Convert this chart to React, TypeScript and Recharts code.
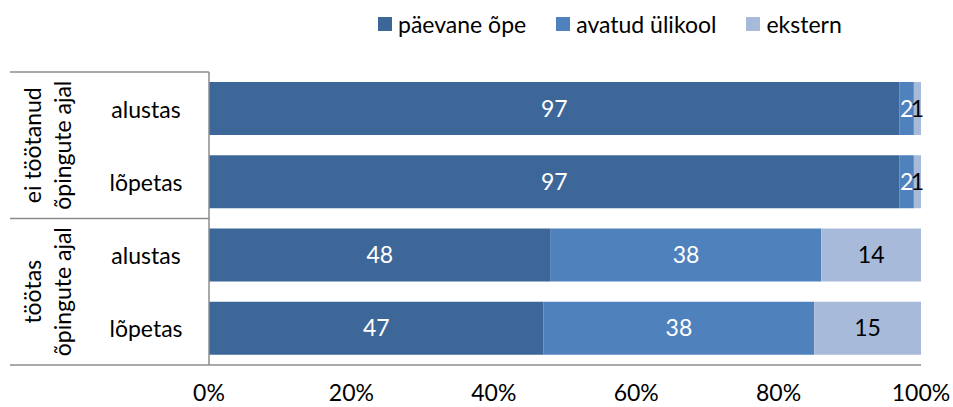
import React from 'react';
import { BarChart, Bar, XAxis, YAxis, LabelList } from 'recharts';

const rowLabels = ['alustas', 'lõpetas', 'alustas', 'lõpetas'];
const groupLabels = [
    ['ei töötanud', 'õpingute ajal'],
    ['töötas', 'õpingute ajal'],
];
const paevane = [97, 97, 48, 47];
const avatud = [2, 2, 38, 38];
const ekstern = [1, 1, 14, 15];
const xTicks = [0, 20, 40, 60, 80, 100];

const seriesNames = ['päevane õpe', 'avatud ülikool', 'ekstern'];
const colors = ['#3e6799', '#4f81bd', '#a8bad9'];

const data = rowLabels.map((row, i) => ({
    id: `r${i}`,
    row,
    paevane: paevane[i],
    avatud: avatud[i],
    ekstern: ekstern[i],
}));

const W = 953;
const H = 407;
const M_TOP = 72;
const X_AXIS_H = 42;
const Y_AXIS_W = 209;
const M_RIGHT = 32;
const PLOT_H = H - M_TOP - X_AXIS_H;
const band = PLOT_H / rowLabels.length;
const lineColor = '#8c8c8c';
const font = 'Lato, "Open Sans", sans-serif';
const FS = 23;

function CategoryTick(props: any) {
    const { y, index } = props;
    const row = data[index];
    const parts: React.ReactNode[] = [];
    parts.push(
        <text key="row" x={146} y={y} textAnchor="middle" dominantBaseline="central" fontSize={FS} fill="#000" fontFamily={font}>
            {row.row}
        </text>
    );
    if (index === 0) {
        parts.push(<line key="top" x1={10} x2={Y_AXIS_W} y1={y - band / 2} y2={y - band / 2} stroke={lineColor} strokeWidth={1.5} />);
    }
    if (index % 2 === 1) {
        parts.push(<line key="sep" x1={10} x2={Y_AXIS_W} y1={y + band / 2} y2={y + band / 2} stroke={lineColor} strokeWidth={1.5} />);
    }
    if (index % 2 === 0) {
        const g = groupLabels[index / 2];
        const cy = y + band / 2;
        [32, 62].forEach((gx, li) => {
            parts.push(
                <text
                    key={`g${li}`}
                    x={gx}
                    y={cy}
                    transform={`rotate(-90, ${gx}, ${cy})`}
                    textAnchor="middle"
                    dominantBaseline="central"
                    fontSize={FS}
                    fill="#000"
                    fontFamily={font}
                >
                    {g[li]}
                </text>
            );
        });
    }
    return <g>{parts}</g>;
}

function ChartLegend() {
    return (
        <div
            style={{
                position: 'absolute',
                left: 378,
                top: 9,
                height: 30,
                display: 'flex',
                alignItems: 'center',
                fontFamily: font,
                fontSize: FS,
                color: '#000',
                whiteSpace: 'nowrap',
            }}
        >
            {seriesNames.map((name, i) => (
                <div key={name} style={{ display: 'flex', alignItems: 'center', marginRight: 30 }}>
                    <span style={{ width: 14, height: 14, background: colors[i], display: 'inline-block', marginRight: 6 }} />
                    <span>{name}</span>
                </div>
            ))}
        </div>
    );
}

export default function App() {
    return (
        <div style={{ position: 'absolute', left: 0, top: 0, width: W, height: H, background: '#fff', fontFamily: font }}>
            <BarChart
                width={W}
                height={H}
                data={data}
                layout="vertical"
                margin={{ top: M_TOP, right: M_RIGHT, left: 0, bottom: 0 }}
            >
                <XAxis
                    type="number"
                    domain={[0, 100]}
                    ticks={xTicks}
                    tickFormatter={(v: number) => `${v}%`}
                    height={X_AXIS_H}
                    tickLine={false}
                    tickSize={0}
                    tickMargin={20}
                    axisLine={{ stroke: lineColor, strokeWidth: 1.5 }}
                    tick={{ fill: '#000', fontSize: FS, fontFamily: font }}
                    interval={0}
                />
                <YAxis
                    type="category"
                    dataKey="id"
                    width={Y_AXIS_W}
                    tickLine={false}
                    axisLine={{ stroke: lineColor, strokeWidth: 1.5 }}
                    tick={<CategoryTick />}
                    interval={0}
                />
                <Bar dataKey="paevane" name={seriesNames[0]} stackId="a" fill={colors[0]} barSize={53} isAnimationActive={false}>
                    <LabelList dataKey="paevane" position="center" fill="#fff" fontSize={FS} fontFamily={font} />
                </Bar>
                <Bar dataKey="avatud" name={seriesNames[1]} stackId="a" fill={colors[1]} barSize={53} isAnimationActive={false}>
                    <LabelList dataKey="avatud" position="center" fill="#fff" fontSize={FS} fontFamily={font} />
                </Bar>
                <Bar dataKey="ekstern" name={seriesNames[2]} stackId="a" fill={colors[2]} barSize={53} isAnimationActive={false}>
                    <LabelList dataKey="ekstern" position="center" fill="#000" fontSize={FS} fontFamily={font} />
                </Bar>
            </BarChart>
            <ChartLegend />
        </div>
    );
}
